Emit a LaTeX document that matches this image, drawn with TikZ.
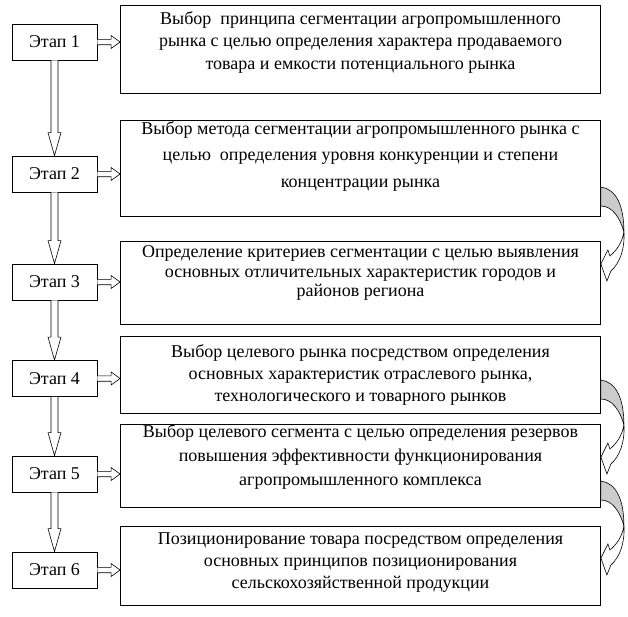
\documentclass[tikz,border=0pt]{standalone}
\usepackage{fontspec}
\setmainfont{Liberation Serif}
\usetikzlibrary{calc}
\tikzset{
  stagebox/.style={draw=black, line width=0.8pt, minimum width=85pt, minimum height=36pt, inner sep=0pt, font=\fontsize{18}{20}\selectfont},
  mainbox/.style={draw=black, line width=0.8pt, minimum width=480pt, inner sep=0pt},
  boxtext/.style={align=center, inner sep=0pt},
  arrowline/.style={draw=black, fill=white, line width=0.6pt, line join=miter},
  curvarr/.pic={
    \filldraw[fill=gray!40, draw=black, line width=0.6pt]
      (0,0) .. controls (15,2) and (23,18) .. (23,45)
      .. controls (19,30) and (11,19) .. (0,19) -- cycle;
    \filldraw[fill=white, draw=black, line width=0.6pt]
      (23,45) .. controls (24,62) and (19,76) .. (10,84) -- (6,94) -- (0,77) -- (7,63) -- (9,69)
      .. controls (16,63) and (21,56) .. (23,45) -- cycle;
  }
}
\newcommand\vdarrow[2]{\draw[arrowline] ($(#1.south)+(-3.5,0)$) -- ($(#2.north)+(-3.5,-23)$) -- ($(#2.north)+(-6.5,-23)$) -- (#2.north) -- ($(#2.north)+(6.5,-23)$) -- ($(#2.north)+(3.5,-23)$) -- ($(#1.south)+(3.5,0)$);}
\newcommand\hdarrow[2]{\coordinate (e#1) at (#2.west |- #1.east);
  \draw[arrowline] ($(#1.east)+(0,-2.7)$) -- ($(e#1)+(-9,-2.7)$) -- ($(e#1)+(-9,-6.5)$) -- (e#1) -- ($(e#1)+(-9,6.5)$) -- ($(e#1)+(-9,2.7)$) -- ($(#1.east)+(0,2.7)$);}
\begin{document}
\begin{tikzpicture}[x=1pt,y=-1pt]
\useasboundingbox (0,0) rectangle (628,616);
% main boxes
\node[mainbox, minimum height=88pt] (b1) at (360.5,49) {};
\node[mainbox, minimum height=96pt] (b2) at (360.5,168) {};
\node[mainbox, minimum height=83pt] (b3) at (360.5,282.5) {};
\node[mainbox, minimum height=77pt] (b4) at (360.5,374.5) {};
\node[mainbox, minimum height=83pt] (b5) at (360.5,465.5) {};
\node[mainbox, minimum height=79pt] (b6) at (360.5,565.5) {};
% texts
\node[boxtext, font=\fontsize{18}{22.5}\selectfont] (t1) at (360.5,42) {Выбор\ \ принципа сегментации агропромышленного\\рынка с целью определения характера продаваемого\\товара и емкости потенциального рынка};
\node[boxtext, font=\fontsize{18}{26.5}\selectfont] (t2) at (360.5,156) {Выбор метода сегментации агропромышленного рынка с\\целью\ \ определения уровня конкуренции и степени\\концентрации рынка};
\node[boxtext, font=\fontsize{18}{19.5}\selectfont] (t3) at (360.5,273) {Определение критериев сегментации с целью выявления\\основных отличительных характеристик городов и\\районов региона};
\node[boxtext, font=\fontsize{18}{22}\selectfont] (t4) at (360.5,375) {Выбор целевого рынка посредством определения\\основных характеристик отраслевого рынка,\\технологического и товарного рынков};
\node[boxtext, font=\fontsize{18}{24}\selectfont] (t5) at (360.5,457) {Выбор целевого сегмента с целью определения резервов\\повышения эффективности функционирования\\агропромышленного комплекса};
\node[boxtext, font=\fontsize{18}{22}\selectfont] (t6) at (360.5,563) {Позиционирование товара посредством определения\\основных принципов позиционирования\\сельскохозяйственной продукции};
% stages
\node[stagebox] (s1) at (54.5,42) {Этап 1};
\node[stagebox] (s2) at (54.5,174) {Этап 2};
\node[stagebox] (s3) at (54.5,282) {Этап 3};
\node[stagebox] (s4) at (54.5,378.5) {Этап 4};
\node[stagebox] (s5) at (54.5,474) {Этап 5};
\node[stagebox] (s6) at (54.5,570) {Этап 6};
% vertical arrows
\vdarrow{s1}{s2}
\vdarrow{s2}{s3}
\vdarrow{s3}{s4}
\vdarrow{s4}{s5}
\vdarrow{s5}{s6}
% horizontal arrows
\hdarrow{s1}{b1}
\hdarrow{s2}{b2}
\hdarrow{s3}{b3}
\hdarrow{s4}{b4}
\hdarrow{s5}{b5}
\hdarrow{s6}{b6}
% curved arrows
\pic at (b2.east |- 0,187) {curvarr};
\pic at (b4.east |- 0,380) {curvarr};
\pic at (b5.east |- 0,481) {curvarr};
\end{tikzpicture}
\end{document}
